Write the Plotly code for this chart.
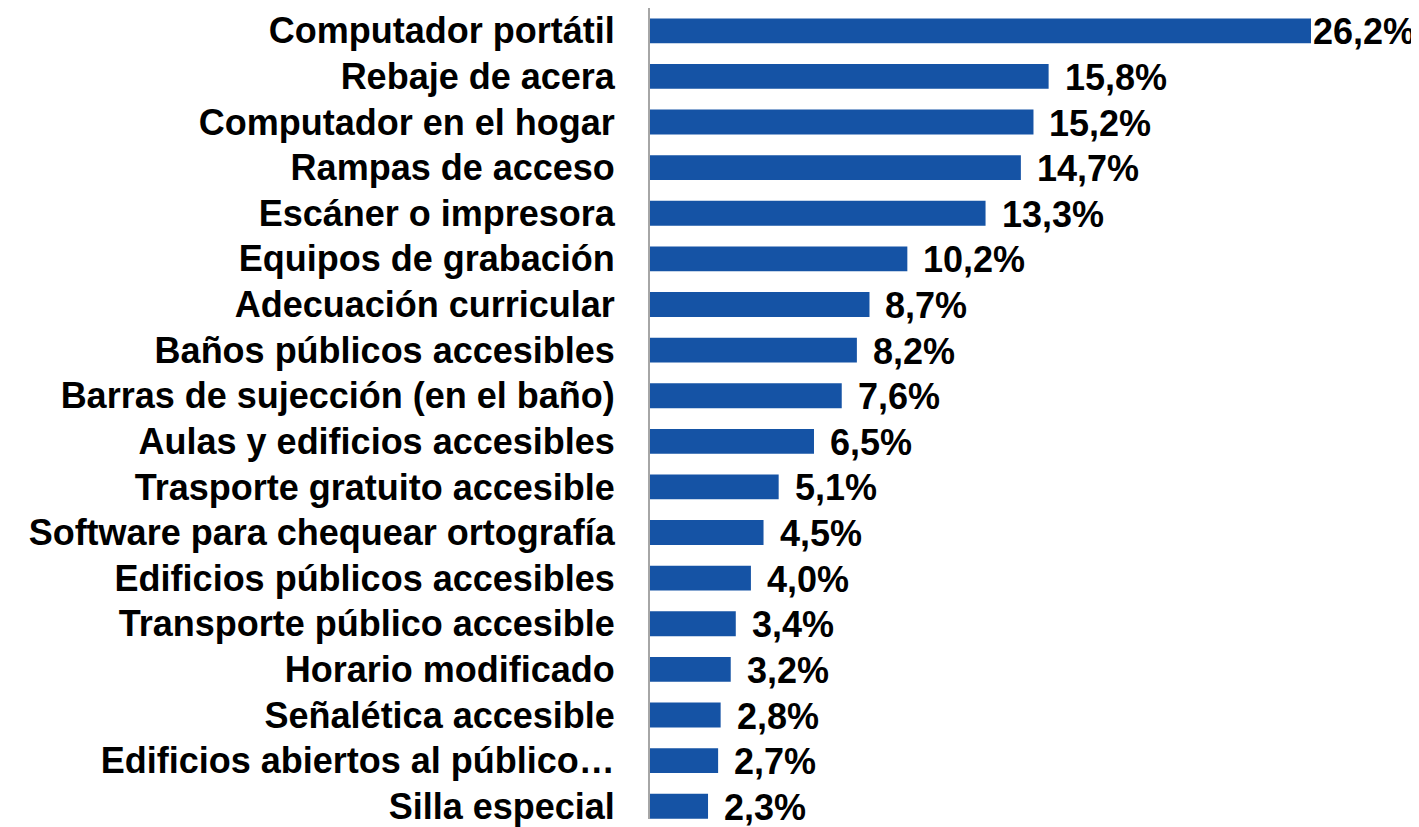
import plotly.graph_objects as go

categories = [
    "Computador portátil",
    "Rebaje de acera",
    "Computador en el hogar",
    "Rampas de acceso",
    "Escáner o impresora",
    "Equipos de grabación",
    "Adecuación curricular",
    "Baños públicos accesibles",
    "Barras de sujección (en el baño)",
    "Aulas y edificios accesibles",
    "Trasporte gratuito accesible",
    "Software para chequear ortografía",
    "Edificios públicos accesibles",
    "Transporte público accesible",
    "Horario modificado",
    "Señalética accesible",
    "Edificios abiertos al público…",
    "Silla especial",
]
values = [26.2, 15.8, 15.2, 14.7, 13.3, 10.2, 8.7, 8.2, 7.6, 6.5, 5.1, 4.5, 4.0, 3.4, 3.2, 2.8, 2.7, 2.3]
labels = [f"{v:.1f}%".replace(".", ",") for v in values]

FONT = "Liberation Sans, Arial, sans-serif"

fig = go.Figure(
    go.Bar(
        x=values,
        y=categories,
        orientation="h",
        marker=dict(color="#1553A5", line=dict(width=0)),
        hoverinfo="skip",
    )
)

shifts = [0 if v == max(values) else 14 for v in values]
for c, v, t, s in zip(categories, values, labels, shifts):
    fig.add_annotation(
        x=v, y=c, xref="x", yref="y", text=f"<b>{t}</b>",
        showarrow=False, xanchor="left", yanchor="middle", xshift=s, yshift=-1,
        font=dict(family=FONT, size=36, color="#000000"),
    )

fig.update_layout(
    width=1411, height=819,
    margin=dict(l=642, r=108, t=0, b=0),
    paper_bgcolor="white", plot_bgcolor="white",
    bargap=0.455,
    showlegend=False,
    font=dict(family=FONT, color="#000000"),
)
fig.update_xaxes(range=[0, 26.2], visible=False, showgrid=False, zeroline=False)
fig.update_yaxes(
    categoryorder="array", categoryarray=categories,
    range=[17.28, -0.5], autorange=False,
    showline=True, linecolor="#A6A6A6", linewidth=2,
    showgrid=False, zeroline=False, ticks="",
    ticklabelstandoff=26,
    tickfont=dict(family=FONT, size=36, color="#000000", weight="bold"),
)

fig.write_html("out.html")
